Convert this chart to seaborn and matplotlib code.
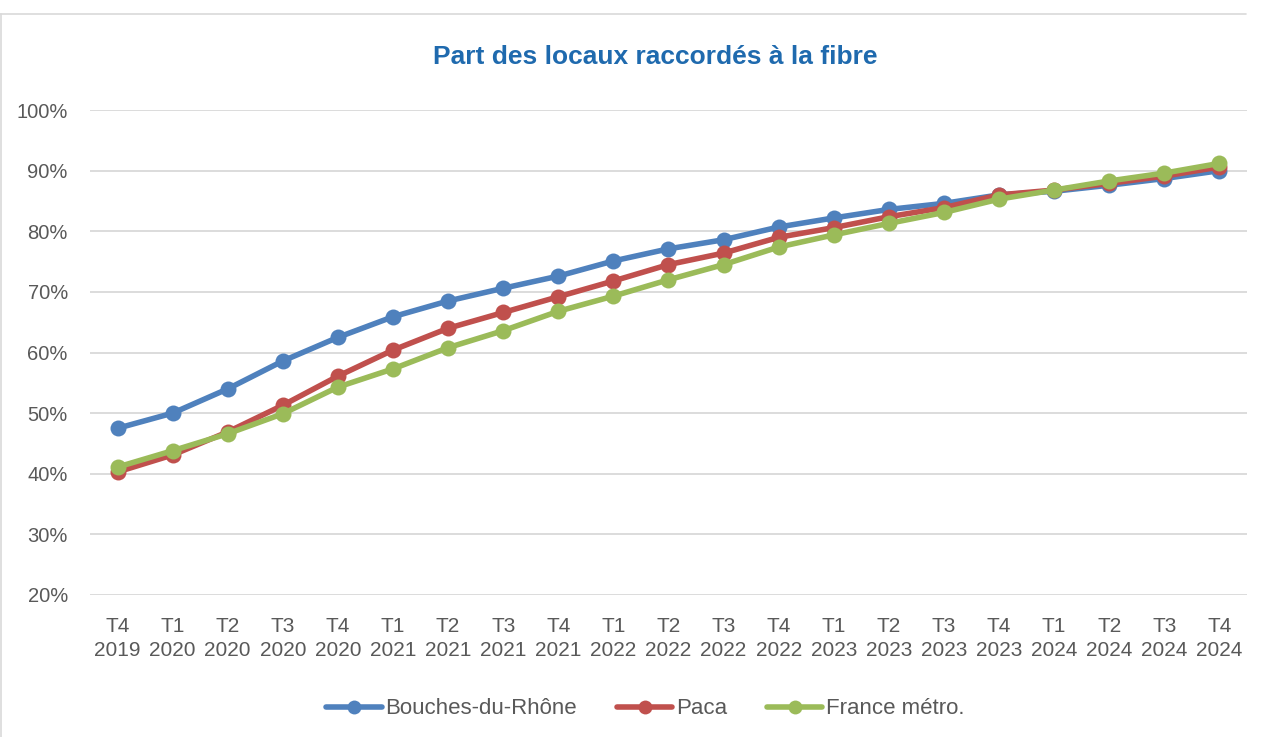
import numpy as np
import pandas as pd
import matplotlib
matplotlib.use("Agg")
import matplotlib.pyplot as plt
import seaborn as sns

periodes = ["T4\n2019", "T1\n2020", "T2\n2020", "T3\n2020", "T4\n2020",
            "T1\n2021", "T2\n2021", "T3\n2021", "T4\n2021",
            "T1\n2022", "T2\n2022", "T3\n2022", "T4\n2022",
            "T1\n2023", "T2\n2023", "T3\n2023", "T4\n2023",
            "T1\n2024", "T2\n2024", "T3\n2024", "T4\n2024"]

bouches_du_rhone = [47.5, 50.0, 54.0, 58.6, 62.5, 65.9, 68.5, 70.6, 72.6,
                    75.1, 77.1, 78.6, 80.7, 82.2, 83.6, 84.6, 86.0,
                    86.6, 87.6, 88.7, 90.0]
paca = [40.3, 43.1, 46.9, 51.3, 56.1, 60.4, 64.0, 66.6, 69.2,
        71.8, 74.5, 76.4, 79.0, 80.6, 82.4, 83.9, 86.0,
        86.8, 87.9, 89.1, 90.6]
france_metro = [41.1, 43.8, 46.6, 49.9, 54.3, 57.3, 60.8, 63.6, 66.8,
                69.3, 72.0, 74.5, 77.4, 79.4, 81.3, 83.1, 85.3,
                86.8, 88.3, 89.6, 91.2]

series = ["Bouches-du-Rhône", "Paca", "France métro."]
couleurs = ["#4F81BD", "#C0504D", "#9BBB59"]

df = pd.DataFrame({
    "x": list(range(len(periodes))) * 3,
    "valeur": bouches_du_rhone + paca + france_metro,
    "serie": np.repeat(series, len(periodes)),
})

sns.set_theme(style="white")
plt.rcParams['font.family'] = ['Liberation Sans', 'DejaVu Sans']

fig = plt.figure(figsize=(12.62, 7.37), dpi=100)
ax = fig.add_axes([0.0713, 0.1927, 0.9168, 0.658])

sns.lineplot(data=df, x="x", y="valeur", hue="serie", hue_order=series,
             palette=couleurs, marker="o", markersize=11.5, markeredgewidth=0,
             linewidth=4.0, ax=ax)

ax.set_xlim(-0.5, len(periodes) - 0.5)
ax.set_ylim(20, 100)
ax.set_yticks(range(20, 101, 10))
ax.set_yticklabels([f"{v}%" for v in range(20, 101, 10)])
ax.set_xticks(range(len(periodes)))
ax.set_xticklabels(periodes, linespacing=1.35)
ax.tick_params(axis="both", length=0, colors="#595959")
ax.tick_params(axis="x", pad=16, labelsize=15)
ax.tick_params(axis="y", pad=16, labelsize=14.5)
ax.grid(axis="y", color="#D9D9D9", linewidth=1.3)
ax.set_axisbelow(True)
for s in ax.spines.values():
    s.set_visible(False)
ax.set_xlabel("")
ax.set_ylabel("")

fig.text(0.519, 0.923, "Part des locaux raccordés à la fibre",
         ha="center", va="center", fontsize=19, fontweight="bold",
         color="#1F6AAE")

leg = ax.legend(loc="center", bbox_to_anchor=(0.48, -0.235), ncol=3,
                frameon=False, fontsize=16, handlelength=2.5,
                columnspacing=1.8, handletextpad=0.15, labelcolor="#595959")
for h in leg.get_lines():
    h.set_linewidth(4.0)
    h.set_markersize(10)

# cadre clair autour du graphique
fig.add_artist(plt.Line2D([0, 0.987], [0.981, 0.981], color="#D9D9D9",
                          linewidth=1.2, transform=fig.transFigure))
fig.add_artist(plt.Line2D([0.001, 0.001], [0, 0.981], color="#D9D9D9",
                          linewidth=1.2, transform=fig.transFigure))

fig.savefig("out.png", dpi=100)
